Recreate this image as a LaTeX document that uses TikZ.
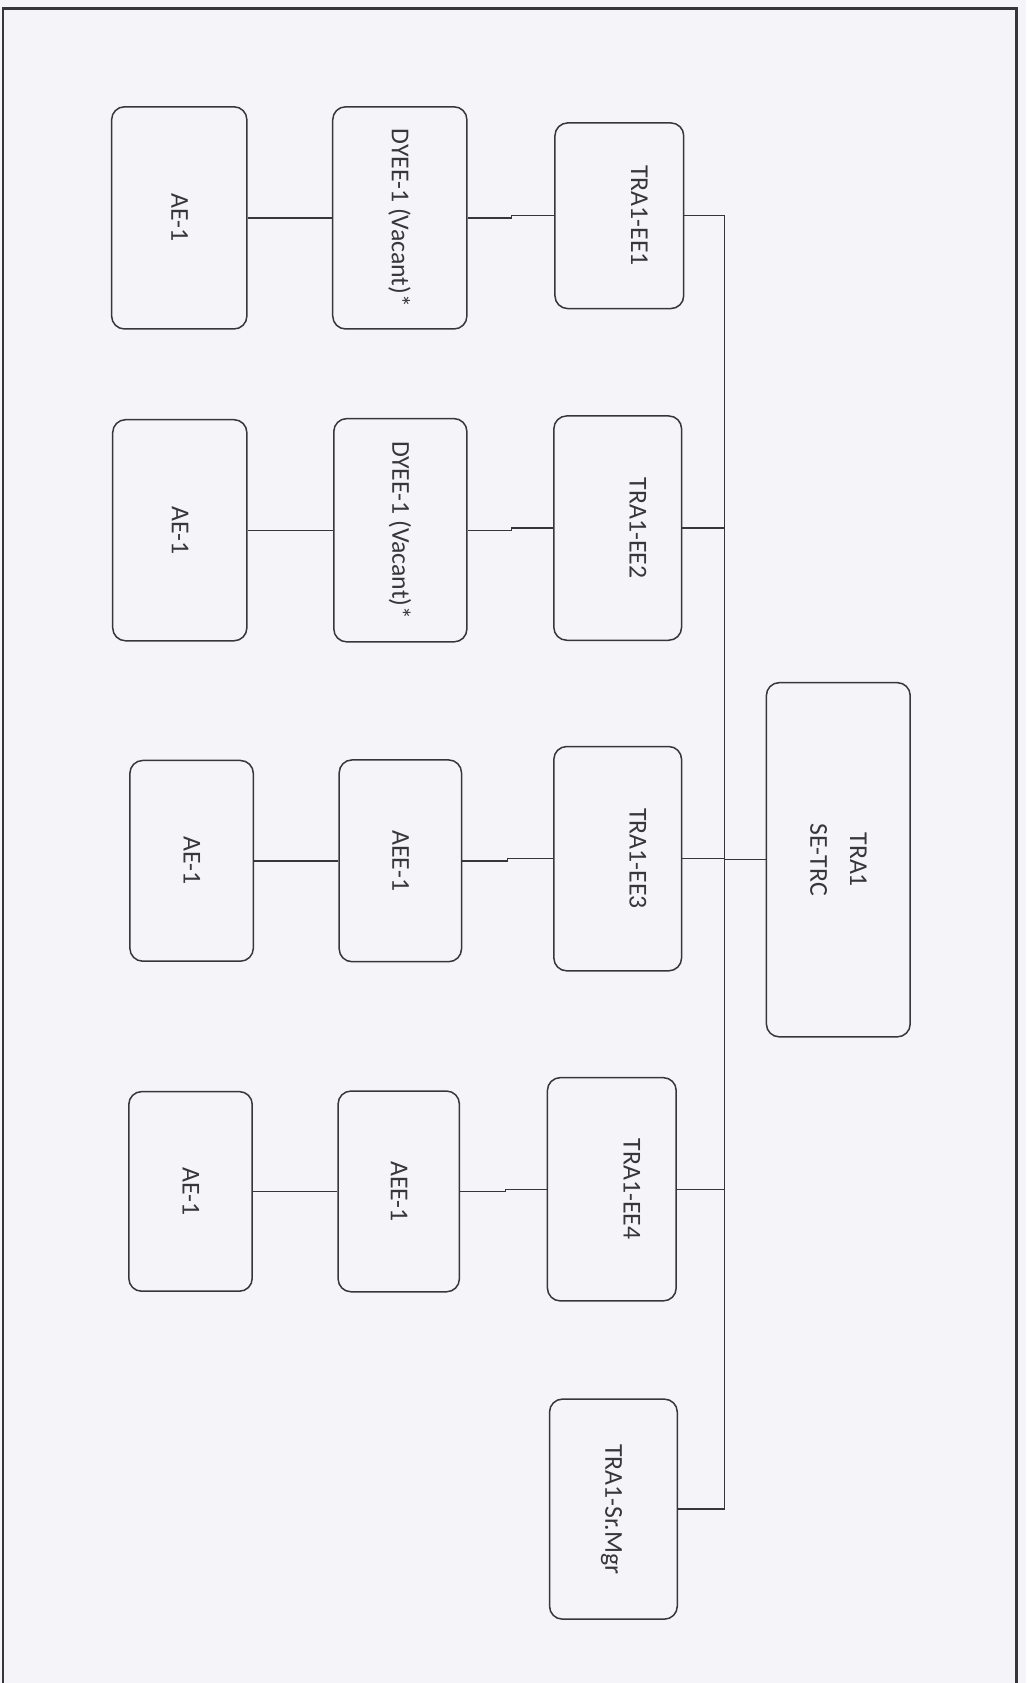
\documentclass[tikz,border=0pt]{standalone}
\usepackage{fontspec}
\setmainfont{Carlito}
\definecolor{paper}{RGB}{245,244,249}
\definecolor{ink}{RGB}{55,55,58}
\newcommand\vtext[1]{\rotatebox{-90}{\begin{tabular}{@{}c@{}}#1\end{tabular}}}
\begin{document}
\begin{tikzpicture}[x=1pt,y=-1pt,
  box/.style={draw=ink, line width=1.4pt, rounded corners=12pt, inner sep=0pt,
    text=ink, font=\fontsize{24}{37}\selectfont},
  conn/.style={draw=ink, line width=1.3pt}]
\fill[paper] (0,0) rectangle (956,1568);
\useasboundingbox (0,0) rectangle (956,1568);
% page frame
\draw[ink, line width=2pt] (3,1568) -- (3,8);
\draw[ink, line width=3pt] (2,8) -- (947,8) -- (947,1568);
% row 1
\node[box, minimum width=126, minimum height=207] (ae1) at (167,203) {\vtext{AE-1}};
\node[box, minimum width=125, minimum height=207] (dy1) at (372.5,203) {\vtext{DYEE-1 (Vacant)*}};
\node[box, minimum width=120, minimum height=173] (ee1) at (577,201) {\vtext{TRA1-EE1\\ {}}};
% row 2
\node[box, minimum width=125, minimum height=206] (ae2) at (167.5,494) {\vtext{AE-1}};
\node[box, minimum width=124, minimum height=208] (dy2) at (373,494) {\vtext{DYEE-1 (Vacant)*}};
\node[box, minimum width=119, minimum height=209] (ee2) at (575.5,492) {\vtext{TRA1-EE2\\ {}}};
% row 3
\node[box, minimum width=115, minimum height=187] (ae3) at (178.5,802) {\vtext{AE-1}};
\node[box, minimum width=114, minimum height=188] (aee3) at (373,802) {\vtext{AEE-1}};
\node[box, minimum width=119, minimum height=209] (ee3) at (575.5,800) {\vtext{TRA1-EE3\\ {}}};
% row 4
\node[box, minimum width=115, minimum height=186] (ae4) at (177.5,1110) {\vtext{AE-1}};
\node[box, minimum width=113, minimum height=187] (aee4) at (371.5,1110) {\vtext{AEE-1}};
\node[box, minimum width=120, minimum height=208] (ee4) at (570,1108) {\vtext{TRA1-EE4\\ {}}};
% senior manager and head
\node[box, minimum width=119, minimum height=205] (mgr) at (571.5,1406) {\vtext{TRA1-Sr.Mgr}};
\node[box, minimum width=134, minimum height=330] (se) at (781,801) {\vtext{TRA1\\SE-TRC}};
% connectors
\draw[conn] (ae1.east) -- (dy1.west);
\draw[conn] (ae2.east) -- (dy2.west);
\draw[conn] (ae3.east) -- (aee3.west);
\draw[conn] (ae4.east) -- (aee4.west);
\draw[conn] (dy1.east) -- ++(41,0) |- (ee1.west);
\draw[conn] (dy2.east) -- ++(41,0) |- (ee2.west);
\draw[conn] (aee3.east) -- ++(42,0) |- (ee3.west);
\draw[conn] (aee4.east) -- ++(42,0) |- (ee4.west);
\coordinate (bus) at (675,0);
\draw[conn] (ee1.east) -| (bus |- mgr.east) -- (mgr.east);
\draw[conn] (ee2.east) -- (ee2.east -| bus);
\draw[conn] (ee3.east) -- (ee3.east -| bus);
\draw[conn] (ee4.east) -- (ee4.east -| bus);
\draw[conn] (se.west) -- (se.west -| bus);
\end{tikzpicture}
\end{document}
